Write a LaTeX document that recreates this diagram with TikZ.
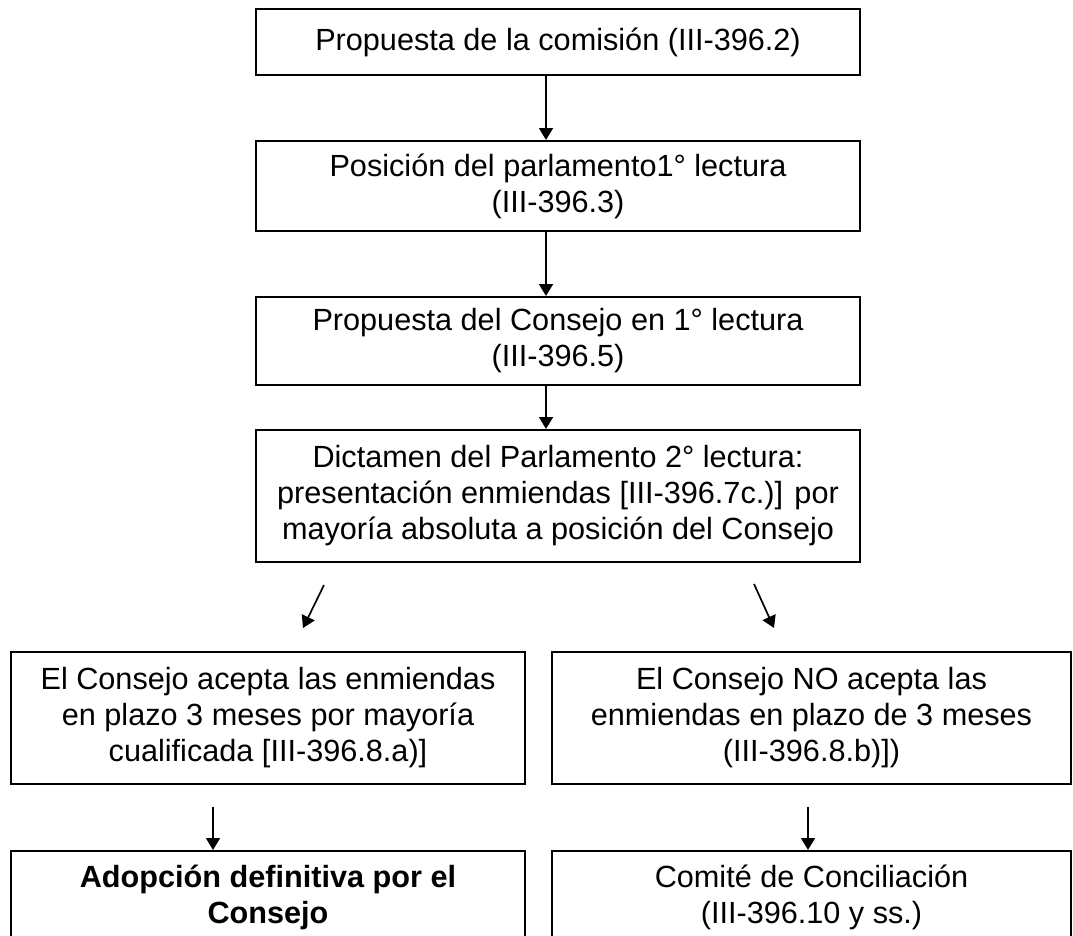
\documentclass[tikz,border=0pt]{standalone}
\usepackage{fontspec}
\setmainfont{Liberation Sans}
\usepackage{tikz}
\usetikzlibrary{arrows.meta}

\begin{document}
\begin{tikzpicture}[
    box_style/.style={draw, line width=1.5pt, rectangle, align=center, inner sep=0pt,
        font=\fontsize{21.8}{25.6}\selectfont},
    wide_box/.style={box_style, minimum width=15.1cm},
    left_box/.style={box_style, minimum width=12.85cm},
    right_box/.style={box_style, minimum width=12.975cm},
    arrow_style/.style={line width=1.2pt, -{Triangle[length=8.5pt, width=10pt]}}
]
    \useasboundingbox (0,0) rectangle (26.825,-23.375);
    \clip (0,0) rectangle (26.825,-23.375);

    % Boxes
    \node[wide_box, minimum height=1.65cm] (comision) at (13.95,-1.05) {Propuesta de la comisión (III-396.2)};
    \node[wide_box, minimum height=2.25cm] (posicion) at (13.95,-4.65) {Posición del parlamento1° lectura\\(III-396.3)};
    \node[wide_box, minimum height=2.2cm] (consejo) at (13.95,-8.525) {Propuesta del Consejo en 1° lectura\\(III-396.5)};
    \node[wide_box, minimum height=3.3cm] (dictamen) at (13.95,-12.4) {Dictamen del Parlamento 2° lectura:\\presentación enmiendas [III-396.7c.)] por\\mayoría absoluta a posición del Consejo};
    \node[left_box, minimum height=3.3cm] (acepta) at (6.7,-17.95) {El Consejo acepta las enmiendas\\en plazo 3 meses por mayoría\\cualificada [III-396.8.a)]};
    \node[right_box, minimum height=3.3cm] (noacepta) at (20.2875,-17.95) {El Consejo NO acepta las\\enmiendas en plazo de 3 meses\\(III-396.8.b)])};
    \node[left_box, minimum height=2.3cm] (adopcion) at (6.7,-22.425) {\textbf{Adopción definitiva por el}\\\textbf{Consejo}};
    \node[right_box, minimum height=2.3cm] (comite) at (20.2875,-22.425) {Comité de Conciliación\\(III-396.10 y ss.)};

    % Free arrow ends
    \coordinate (l_start) at (8.1,-14.625);
    \coordinate (l_end) at (7.575,-15.7);
    \coordinate (r_start) at (18.85,-14.6);
    \coordinate (r_end) at (19.35,-15.7);
    \coordinate (a_start) at (5.325,-20.175);
    \coordinate (c_start) at (20.2,-20.175);

    % Arrows
    \draw[arrow_style] ([xshift=-0.3cm]comision.south) -- ([xshift=-0.3cm]posicion.north);
    \draw[arrow_style] ([xshift=-0.3cm]posicion.south) -- ([xshift=-0.3cm]consejo.north);
    \draw[arrow_style] ([xshift=-0.3cm]consejo.south) -- ([xshift=-0.3cm]dictamen.north);
    \draw[arrow_style] (l_start) -- (l_end);
    \draw[arrow_style] (r_start) -- (r_end);
    \draw[arrow_style] (a_start) -- (a_start |- adopcion.north);
    \draw[arrow_style] (c_start) -- (c_start |- comite.north);
\end{tikzpicture}
\end{document}
